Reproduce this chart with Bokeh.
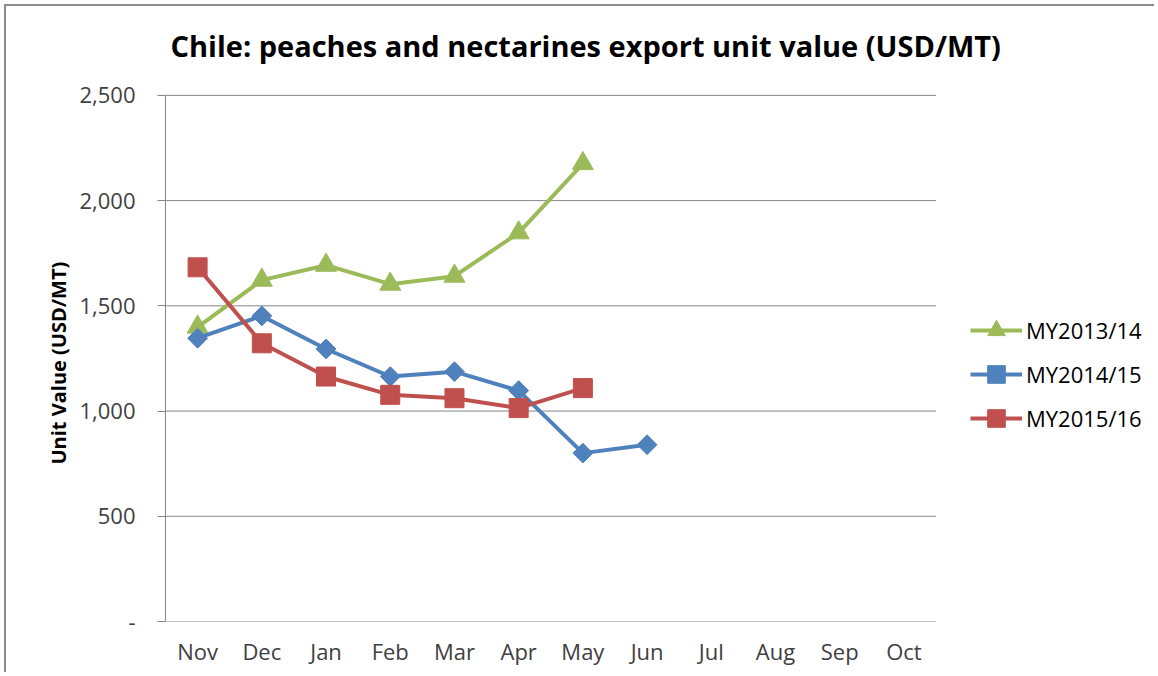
from bokeh.plotting import figure
from bokeh.models import (Legend, LegendItem, NumeralTickFormatter, FixedTicker, Range1d,
                          Label, Title)
from bokeh.embed import file_html
from bokeh.resources import INLINE
import math

months = ["Nov", "Dec", "Jan", "Feb", "Mar", "Apr", "May", "Jun", "Jul", "Aug", "Sep", "Oct"]
my1314 = [1399, 1622, 1693, 1603, 1641, 1847, 2176]
my1415 = [1346, 1452, 1295, 1164, 1187, 1097, 800, 840]
my1516 = [1683, 1322, 1164, 1077, 1061, 1014, 1109]
y_ticks = [0, 500, 1000, 1500, 2000, 2500]
title_text = "Chile: peaches and nectarines export unit value (USD/MT)"
y_label = "Unit Value (USD/MT)"

FONT = "Open Sans"
TXT = "#404040"
GRID = "#868686"

W, H = 1150, 668
LEFT = 159
TOP = 10
n = len(months)
cat_px = 769 / n                      # pixel width of one month slot
frame_w = (W - 2) - LEFT
x_end = -0.5 + frame_w / cat_px       # room right of the axis for the legend
y_max = max(y_ticks)
plot_px = 527                         # pixel height of the 0..2500 band
frame_px = 622 - (6 + TOP)            # full frame height (room above for the title)
y_end = y_max * frame_px / plot_px

idx = list(range(n))

p = figure(width=W, height=H, x_range=Range1d(-0.5, x_end), y_range=Range1d(0, y_end),
           output_backend="svg", toolbar_location=None,
           min_border_left=LEFT, min_border_right=0, min_border_top=TOP, min_border_bottom=53)

p.outline_line_color = None
p.xgrid.grid_line_color = None
p.ygrid.grid_line_color = None

# title, inside the (enlarged) frame above the plotting band
p.add_layout(Label(x=-0.5 + 5 / cat_px, y=y_max + 50 * y_max / plot_px, text=title_text,
                   text_font=FONT, text_font_size="29px", text_font_style="bold",
                   text_color="#000000", text_align="left", text_baseline="middle"))

# horizontal gridlines spanning only the 12 month slots
p.segment(x0=[-0.5] * len(y_ticks), x1=[n - 0.5] * len(y_ticks), y0=y_ticks, y1=y_ticks,
          line_color=GRID, line_width=1)

p.yaxis.bounds = (0, y_max)
p.yaxis.ticker = FixedTicker(ticks=y_ticks)
p.yaxis.formatter = NumeralTickFormatter(format="0,0")
p.yaxis.major_label_overrides = {0: "-"}
p.yaxis.major_label_text_font = FONT
p.yaxis.major_label_text_font_size = "22px"
p.yaxis.major_label_text_color = TXT
p.yaxis.axis_line_color = GRID
p.yaxis.major_tick_line_color = GRID
p.yaxis.major_tick_out = 8
p.yaxis.major_tick_in = 0
p.yaxis.minor_tick_line_color = None
p.yaxis.major_label_standoff = 22

# y-axis title, centred on the 0..2500 band rather than on the whole frame
p.add_layout(Title(text=y_label, align="left", offset=157, text_font=FONT,
                   text_font_size="20px", text_font_style="bold", text_color="#000000"),
             "left")

p.xaxis.ticker = FixedTicker(ticks=idx)
p.xaxis.major_label_overrides = {i: m for i, m in enumerate(months)}
p.xaxis.major_label_text_font = FONT
p.xaxis.major_label_text_font_size = "22px"
p.xaxis.major_label_text_color = TXT
p.xaxis.axis_line_color = None
p.xaxis.major_tick_line_color = None
p.xaxis.minor_tick_line_color = None
p.xaxis.major_label_standoff = 8

green = "#9BBB59"
blue = "#4F81BD"
red = "#C0504D"

x1 = idx[:len(my1314)]
x2 = idx[:len(my1415)]
x3 = idx[:len(my1516)]

l1 = p.line(x1, my1314, line_color=green, line_width=4)
s1 = p.scatter(x1, my1314, marker="triangle", size=21, fill_color=green, line_color=green)
l2 = p.line(x2, my1415, line_color=blue, line_width=4)
s2 = p.scatter(x2, my1415, marker="square", size=14, angle=math.pi / 4,
               fill_color=blue, line_color=blue)
l3 = p.line(x3, my1516, line_color=red, line_width=4)
s3 = p.scatter(x3, my1516, marker="square", size=19, fill_color=red, line_color=red)

legend = Legend(items=[
    LegendItem(label="MY2013/14", renderers=[l1, s1]),
    LegendItem(label="MY2014/15", renderers=[l2, s2]),
    LegendItem(label="MY2015/16", renderers=[l3, s3]),
], location=(805, 181))
legend.label_text_font = FONT
legend.label_text_font_size = "22px"
legend.label_text_color = "#000000"
legend.border_line_color = None
legend.background_fill_alpha = 0
legend.glyph_width = 52
legend.glyph_height = 44
legend.spacing = 0
legend.label_standoff = 4
legend.margin = 0
legend.padding = 10
p.add_layout(legend, "center")

p.styles = {"border-top": "2px solid #8c8c8c", "border-left": "2px solid #8c8c8c",
            "margin-left": "4px", "margin-top": "4px", "box-sizing": "border-box"}

open("out.html", "w").write(file_html(p, INLINE))
